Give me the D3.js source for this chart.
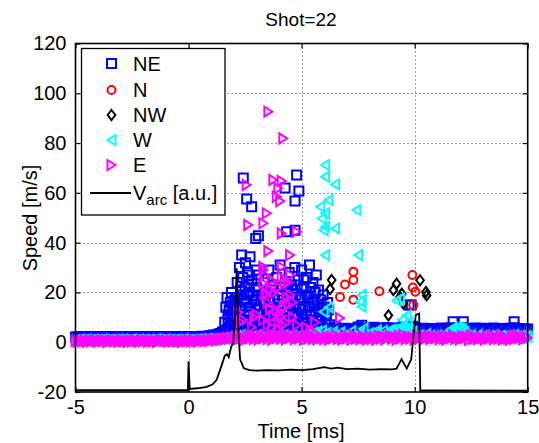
<!DOCTYPE html>
<meta charset="utf-8">
<style>
  body { margin: 0; background: #fff; }
  svg text { font-family: "Liberation Sans", Arial, sans-serif; fill: #000; }
</style>
<body>
<div class="chart"></div>
<script src="https://cdn.jsdelivr.net/npm/d3@7"></script>
<script>
// tick values
var xTicks = [-5, 0, 5, 10, 15];
var yTicks = [-20, 0, 20, 40, 60, 80, 100, 120];

// sample times of the dense baseline band [ms]
var baseT = [
  -5.0,-4.9,-4.8,-4.7,-4.6,-4.5,-4.4,-4.3,-4.2,-4.1,
  -4.0,-3.9,-3.8,-3.7,-3.6,-3.5,-3.4,-3.3,-3.2,-3.1,
  -3.0,-2.9,-2.8,-2.7,-2.6,-2.5,-2.4,-2.3,-2.2,-2.1,
  -2.0,-1.9,-1.8,-1.7,-1.6,-1.5,-1.4,-1.3,-1.2,-1.1,
  -1.0,-0.9,-0.8,-0.7,-0.6,-0.5,-0.4,-0.3,-0.2,-0.1,
  0.0,0.1,0.2,0.3,0.4,0.5,0.6,0.7,0.8,0.9,
  1.0,1.1,1.2,1.3,1.4,1.5,1.6,1.7,1.8,1.9,
  2.0,2.1,2.2,2.3,2.4,2.5,2.6,2.7,2.8,2.9,
  3.0,3.1,3.2,3.3,3.4,3.5,3.6,3.7,3.8,3.9,
  4.0,4.1,4.2,4.3,4.4,4.5,4.6,4.7,4.8,4.9,
  5.0,5.1,5.2,5.3,5.4,5.5,5.6,5.7,5.8,5.9,
  6.0,6.1,6.2,6.3,6.4,6.5,6.6,6.7,6.8,6.9,
  7.0,7.1,7.2,7.3,7.4,7.5,7.6,7.7,7.8,7.9,
  8.0,8.1,8.2,8.3,8.4,8.5,8.6,8.7,8.8,8.9,
  9.0,9.1,9.2,9.3,9.4,9.5,9.6,9.7,9.8,9.9,
  10.0,10.1,10.2,10.3,10.4,10.5,10.6,10.7,10.8,10.9,
  11.0,11.1,11.2,11.3,11.4,11.5,11.6,11.7,11.8,11.9,
  12.0,12.1,12.2,12.3,12.4,12.5,12.6,12.7,12.8,12.9,
  13.0,13.1,13.2,13.3,13.4,13.5,13.6,13.7,13.8,13.9,
  14.0,14.1,14.2,14.3,14.4,14.5,14.6,14.7,14.8,14.9,
  15.0];

// baseline speeds per probe [m/s]
var neBand = [
  2.1,2.2,2.0,2.1,2.3,2.2,2.1,2.0,2.2,2.1, 2.2,2.1,2.0,2.2,2.1,2.3,2.1,2.2,2.0,2.1,
  2.1,2.2,2.1,2.0,2.2,2.1,2.2,2.3,2.1,2.0, 2.2,2.1,2.1,2.2,2.0,2.1,2.3,2.2,2.1,2.2,
  2.1,2.0,2.2,2.1,2.2,2.1,2.3,2.1,2.2,2.1, 2.2,2.1,2.3,2.2,2.1,2.2,2.4,2.3,2.2,2.5,
  2.7,2.9,2.8,3.2,3.5,4.1,3.8,4.6,5.2,4.8, 5.5,6.2,5.8,4.9,5.6,6.5,5.1,6.0,5.4,6.3,
  5.7,6.1,5.3,6.6,5.9,5.2,6.4,5.8,6.0,5.5, 6.2,5.6,6.0,5.4,6.5,5.8,5.3,6.1,5.9,6.6,
  5.7,6.3,5.5,6.0,5.2,5.8,6.4,5.4,5.9,5.1, 5.6,4.9,5.4,4.8,5.5,5.1,4.7,5.3,5.0,5.6,
  4.8,5.4,5.1,4.7,5.5,6.1,5.2,4.9,5.6,5.0, 5.3,4.8,5.7,5.1,4.9,5.5,5.2,5.8,5.0,5.4,
  5.6,5.1,4.9,5.7,5.3,6.2,5.5,6.0,5.8,6.4, 5.9,5.4,5.1,4.9,5.6,5.3,5.0,5.5,5.2,4.8,
  5.4,5.1,5.7,5.3,4.9,5.5,5.8,5.2,5.0,5.6, 5.3,5.9,5.1,5.5,4.8,5.4,5.2,5.7,5.0,5.3,
  5.6,5.2,4.9,5.4,5.1,5.7,5.3,5.0,5.5,5.2, 5.4,5.0,5.6,5.3,5.8,5.1,5.5,4.9,5.4,5.2,
  5.3];
var wBand = [
  0.8,0.6,1.0,0.7,0.9,1.1,0.6,0.8,1.0,0.7, 0.9,0.7,1.1,0.8,0.6,1.0,0.7,0.9,0.8,1.0,
  0.7,1.0,0.8,0.6,0.9,1.1,0.7,0.8,1.0,0.6, 0.9,0.8,0.7,1.0,0.6,0.9,1.1,0.8,0.7,0.9,
  1.0,0.7,0.9,0.6,0.8,1.0,0.7,0.9,1.1,0.8, 0.9,0.7,1.0,0.8,1.1,0.9,1.2,1.0,1.3,1.1,
  1.0,1.2,0.9,1.4,1.1,1.6,1.3,1.8,1.5,2.0, 1.8,2.4,1.6,2.9,2.1,1.7,2.6,1.9,2.3,1.5,
  2.7,2.0,1.6,2.4,1.8,2.9,2.2,1.7,2.5,1.9, 2.1,1.6,2.8,2.0,2.4,1.7,2.6,1.9,2.3,1.5,
  2.5,2.0,2.9,1.7,2.4,3.8,2.2,4.3,2.6,4.6, 2.1,3.7,1.9,2.6,4.2,2.3,1.8,3.9,2.4,2.0,
  2.5,1.9,4.4,2.2,1.7,2.8,4.1,2.0,2.6,1.8, 3.6,2.1,2.7,4.0,1.9,2.4,4.6,2.2,4.3,4.8,
  4.2,5.0,4.4,4.7,5.3,4.6,5.5,5.1,4.8,4.2, 2.6,2.1,2.8,1.9,2.4,3.2,2.0,2.6,1.8,2.3,
  2.7,2.0,2.4,2.9,2.1,4.4,5.2,5.8,5.5,6.0, 5.6,5.2,4.1,2.6,2.1,2.8,1.9,2.4,2.9,2.0,
  2.3,2.7,1.8,2.5,2.0,2.8,2.3,1.9,2.6,2.2, 2.4,1.9,2.7,2.2,2.9,2.0,2.5,2.3,1.8,2.4,
  2.2];
var eBand = [
  0.5,0.2,0.8,0.4,0.6,0.1,0.7,0.3,0.9,0.5, 0.2,0.6,0.4,0.8,0.1,0.5,0.7,0.3,0.6,0.2,
  0.8,0.4,0.5,0.1,0.7,0.3,0.9,0.5,0.2,0.6, 0.4,0.8,0.2,0.6,0.3,0.7,0.1,0.5,0.9,0.4,
  0.6,0.2,0.7,0.4,0.8,0.3,0.5,0.1,0.6,0.4, 0.7,0.3,0.8,0.5,0.2,0.6,0.9,0.4,0.7,0.5,
  0.8,1.1,0.6,1.3,0.9,1.5,1.2,1.8,1.4,2.0, 1.6,2.3,1.2,2.6,1.8,1.0,2.4,1.5,2.8,1.3,
  2.1,1.1,2.7,1.6,2.9,1.3,2.2,1.0,2.5,1.7, 2.8,1.4,2.3,1.1,2.6,1.8,2.9,1.2,2.4,1.6,
  2.2,1.0,2.7,1.5,2.9,1.3,2.0,1.1,2.5,1.7, 1.2,2.4,1.0,2.1,1.6,2.8,1.3,1.9,1.1,2.6,
  1.5,2.2,1.0,2.7,1.4,1.9,1.2,2.5,1.7,1.1, 2.3,1.3,2.0,1.0,2.6,1.5,2.2,1.1,1.8,2.7,
  1.4,2.1,1.0,2.5,1.6,2.9,1.2,2.3,1.5,2.0, 1.1,2.6,1.4,2.2,1.0,1.9,2.7,1.3,2.4,1.6,
  2.1,1.2,2.8,1.5,1.0,2.3,1.7,2.6,1.3,2.0, 1.1,2.5,1.6,2.2,1.0,2.7,1.4,1.9,1.2,2.4,
  1.7,1.0,2.3,1.5,2.8,1.2,2.0,1.4,2.6,1.1, 2.2,1.5,1.0,2.5,1.3,2.9,1.6,2.1,1.2,2.4,
  1.8];

// scattered (fast) detections: time [ms] and speed [m/s]
var neT = [2.42,2.57,2.79,4.78,4.27,4.88,4.71,3.09,2.97,4.34,4.71,2.35,2.72,2.52,2.64,3.0,
  1.6,1.65,1.7,1.75,1.8,1.85,1.9,1.95,2.0,2.05,2.1,2.15,2.2,2.25,2.3,2.35,2.4,2.45,2.5,2.55,2.6,2.65,2.7,
  2.8,2.85,2.9,3.0,3.05,3.1,3.2,3.25,3.35,3.45,3.55,3.6,3.7,3.8,3.9,4.0,4.05,4.15,4.2,4.3,4.4,4.45,4.55,
  4.6,4.7,4.75,4.85,4.9,5.0,5.05,5.1,5.15,5.2,5.3,5.35,5.4,5.5,5.55,5.6,5.7,5.75,5.85,5.9,6.0,6.1,6.2,6.25,
  1.7,1.75,1.8,1.85,1.9,1.95,2.0,2.05,2.1,2.15,2.2,2.25,2.3,2.35,2.4,2.45,2.5,2.55,2.6,2.65,2.7,2.75,
  2.8,2.85,2.9,2.95,3.0,3.05,3.1,3.15,3.2,3.25,3.3,3.35,3.4,3.45,3.5,3.55,3.6,3.65,3.7,3.75,3.8,3.85,
  3.9,3.95,4.0,4.05,4.1,4.15,4.2,4.25,4.3,4.35,4.4,4.45,4.5,4.55,4.6,4.65,4.7,4.75,4.8,4.85,4.9,4.95,
  5.0,5.05,5.1,5.15,5.2,5.25,5.3,5.35,5.4,5.45,5.5,5.55,5.6,5.65,5.7,5.75,5.8,5.85,5.9,5.95,6.05,6.15,
  7.66,9.75,9.85,11.7,12.15,14.4,6.5,7.2,8.2,8.8];
var neV = [66,57.5,54.4,67.2,62,60.7,56.7,42.8,41.7,44.4,45,35,34.3,31.9,27,29,
  8,14,18,11,6,16,20,9,13,17,7,24,11,30,19,14,26,8,22,16,28,12,20,
  25,9,17,22,13,27,7,19,24,11,29,16,21,8,26,14,31,19,10,24,15,28,8,
  21,30,12,25,17,29,9,22,14,26,18,31,11,24,16,20,7,13,17,9,14,11,13,7,
  5,9,13,7,11,15,6,10,14,18,5,9,13,21,6,17,11,7,19,23,9,14,
  5,19,11,6,15,21,9,13,17,6,11,15,20,7,12,18,6,10,14,23,17,12,
  6,19,9,14,22,6,17,12,8,20,5,13,18,23,11,15,7,19,23,10,14,6,
  18,13,25,8,11,19,6,14,22,9,17,6,12,27,15,21,10,7,13,19,8,16,
  6.8,15,15,8.2,8.2,8.2,6,5.5,6,5.8];

var nT = [7.29,7.29,6.92,6.7,7.29,8.44,9.9,9.92,10.03,9.94];
var nV = [28.3,25,23.2,18.2,17.1,20.5,27,22,20.3,14.9];

var nwT = [6.33,6.26,8.84,9.2,9.06,9.43,9.5,9.35,10.24,10.5,10.53];
var nwV = [25,21.3,10.8,23.5,20.9,19.5,15.5,18.2,24.9,20.2,18.8];

var wT = [6.04,6.04,6.48,6.19,5.82,6.04,5.89,6.04,6.48,5.97,7.42,7.5,6.04,7.66,7.58,7.66,5.97,
  6.2,9.2,9.35,9.64,9.5,8.99,8.33,7.74,9.7,9.45];
var wV = [71.2,66.5,63.4,57.1,54.4,51.8,49.7,46.4,45.7,45,53.1,35,35,19,16.3,14.3,12.2,
  14,16.8,17.4,10.7,6.7,4.8,4.8,5.5,8,9];

var eT = [3.53,4.19,3.75,4.12,2.57,3.97,3.9,4.05,3.46,3.31,2.64,4.12,4.78,3.53,4.49,
  3.31,3.31,3.38,3.31,3.46,4.12,4.12,3.97,4.27,4.34,3.6,3.75,4.05,3.97,4.42,3.5,4.6,3.68,4.5,
  4.2,2.2,2.4,2.8,3.0,5.2,5.6,6.7,
  3.3,3.4,3.5,3.6,3.7,3.8,3.9,4.0,4.1,4.2,4.3,4.4,4.5,4.6,2.3,2.9,4.8,5.4];
var eV = [92.6,81.9,65.2,64.8,63.2,61.8,58.5,56.7,51.8,47.8,47.1,43.7,44.4,36.6,35,
  29,30.3,27,23.7,19.6,30.3,26.2,22,23.7,18,13.2,10.5,12,8.2,15,16,10,25,27,
  7,12,9,6,11,6,8,9.7,
  9,19,7,21,6,20,13,5,10,14,8,24,19,16,8,10,7,5];

// arc voltage trace (arbitrary units, drawn on the speed axis)
var vT = [-5,-0.03,0,0.05,0.4,0.8,1.05,1.24,1.4,1.6,1.7,1.78,1.88,1.98,2.05,2.13,2.2,2.28,2.45,2.7,
  3.0,3.5,4.0,4.5,5.0,5.5,6.0,6.3,6.6,7.0,7.5,8.0,8.5,9.0,9.2,9.42,9.65,9.85,9.95,10.05,10.2,10.25,10.4,15];
var vV = [-19.3,-19.3,-7.7,-18.8,-18.5,-17.9,-17,-15.2,-11,-5.5,-4.8,-6,-2,0,10,29.7,5,-7,-10.5,-11.2,
  -11.4,-11.2,-11.3,-11.0,-11.2,-10.8,-10.0,-10.6,-10.2,-10.8,-10.6,-11.0,-10.8,-10.9,-10.6,-6.8,-10.6,-6.8,3,11,11.5,-19.5,-19.4,-19.5];

var series = [
  {name: "NE", color: "#0000ff", shape: "square",   t: baseT.concat(neT), v: neBand.concat(neV)},
  {name: "N",  color: "#ff0000", shape: "circle",   t: nT, v: nV},
  {name: "NW", color: "#000000", shape: "diamond",  t: nwT, v: nwV},
  {name: "W",  color: "#00ffff", shape: "triLeft",  t: baseT.concat(wT), v: wBand.concat(wV)},
  {name: "E",  color: "#ff00ff", shape: "triRight", t: baseT.concat(eT), v: eBand.concat(eV)}
];

var shapes = {
  square: "M-4.5,-4.5H4.5V4.5H-4.5Z",
  circle: "M-4,0A4,4 0 1,0 4,0A4,4 0 1,0 -4,0Z",
  diamond: "M0,-5L3.8,0L0,5L-3.8,0Z",
  triLeft: "M4,-5L-4,0L4,5Z",
  triRight: "M-4,-5L4,0L-4,5Z"
};

var W = 539, H = 443;
var x = d3.scaleLinear().domain([-5, 15]).range([75.5, 527.7]);
var y = d3.scaleLinear().domain([-20, 120]).range([392, 43.5]);

var svg = d3.select(".chart").append("svg").attr("width", W).attr("height", H);

// grid
var grid = svg.append("g").attr("class", "grid")
  .attr("stroke", "#333").attr("stroke-width", 1).attr("stroke-dasharray", "1,3");
grid.selectAll(".gx").data(xTicks.slice(1, -1)).enter().append("line")
  .attr("x1", function(d){ return Math.round(x(d)) + 0.5; })
  .attr("x2", function(d){ return Math.round(x(d)) + 0.5; })
  .attr("y1", y(120)).attr("y2", y(-20));
grid.selectAll(".gy").data(yTicks.slice(1, -1)).enter().append("line")
  .attr("y1", function(d){ return Math.round(y(d)) + 0.5; })
  .attr("y2", function(d){ return Math.round(y(d)) + 0.5; })
  .attr("x1", x(-5)).attr("x2", x(15));

// axes, ticks pointing inward like the original
function styleAxis(g) {
  g.select(".domain").remove();
  g.selectAll(".tick line").attr("stroke", "#000").attr("stroke-width", 1.2);
  g.selectAll("text").attr("font-size", "20px");
}
svg.append("g").attr("transform", "translate(0," + y(-20) + ")")
  .call(d3.axisBottom(x).tickValues(xTicks).tickSize(-5).tickPadding(8).tickFormat(function(d){ return String(d); }))
  .call(styleAxis);
svg.append("g").attr("transform", "translate(" + x(-5) + ",0)")
  .call(d3.axisLeft(y).tickValues(yTicks).tickSize(-5).tickPadding(9).tickFormat(function(d){ return String(d); }))
  .call(styleAxis);
svg.append("g").attr("transform", "translate(0," + y(120) + ")")
  .call(d3.axisTop(x).tickValues(xTicks).tickSize(-5).tickFormat(""))
  .call(styleAxis);
svg.append("g").attr("transform", "translate(" + x(15) + ",0)")
  .call(d3.axisRight(y).tickValues(yTicks).tickSize(-5).tickFormat(""))
  .call(styleAxis);

// markers (not clipped, as in the original)
series.forEach(function(s) {
  var pts = s.t.map(function(t, i){ return [t, s.v[i]]; });
  svg.append("g").attr("class", "series-" + s.name)
    .selectAll("path").data(pts).enter().append("path")
    .attr("d", shapes[s.shape])
    .attr("transform", function(d){ return "translate(" + x(d[0]) + "," + y(d[1]) + ")"; })
    .attr("fill", "none").attr("stroke", s.color).attr("stroke-width", 2);
});

// arc voltage line
var line = d3.line().x(function(d){ return x(d[0]); }).y(function(d){ return y(d[1]); });
svg.append("path")
  .datum(vT.map(function(t, i){ return [t, vV[i]]; }))
  .attr("d", line).attr("fill", "none").attr("stroke", "#000").attr("stroke-width", 1.8);

// frame
svg.append("rect")
  .attr("x", x(-5)).attr("y", y(120))
  .attr("width", x(15) - x(-5)).attr("height", y(-20) - y(120))
  .attr("fill", "none").attr("stroke", "#000").attr("stroke-width", 1.6);

// legend
var leg = svg.append("g").attr("class", "legend");
leg.append("rect").attr("x", 81.5).attr("y", 48.5).attr("width", 143.5).attr("height", 166.5)
  .attr("fill", "#fff").attr("stroke", "#000").attr("stroke-width", 1.3);
var legY = [63.5, 90, 115, 140, 165];
series.forEach(function(s, i) {
  leg.append("path").attr("d", shapes[s.shape])
    .attr("transform", "translate(111.5," + legY[i] + ")")
    .attr("fill", "none").attr("stroke", s.color).attr("stroke-width", 2);
  leg.append("text").attr("x", 133).attr("y", legY[i]).attr("dy", "0.36em")
    .attr("font-size", "20px").text(s.name);
});
leg.append("line").attr("x1", 90).attr("x2", 131).attr("y1", 193).attr("y2", 193)
  .attr("stroke", "#000").attr("stroke-width", 1.8);
var vt = leg.append("text").attr("x", 133).attr("y", 199.5).attr("font-size", "20px");
vt.append("tspan").text("V");
vt.append("tspan").attr("dy", 5).attr("font-size", "15px").text("arc");
vt.append("tspan").attr("dy", -5).text(" [a.u.]");

// title and labels
svg.append("text").attr("x", 301).attr("y", 26).attr("text-anchor", "middle")
  .attr("font-size", "19px").text("Shot=22");
svg.append("text").attr("x", 301).attr("y", 438).attr("text-anchor", "middle")
  .attr("font-size", "20px").text("Time [ms]");
svg.append("text").attr("transform", "translate(37,218) rotate(-90)")
  .attr("text-anchor", "middle").attr("font-size", "20px").text("Speed [m/s]");
</script>
</body>
